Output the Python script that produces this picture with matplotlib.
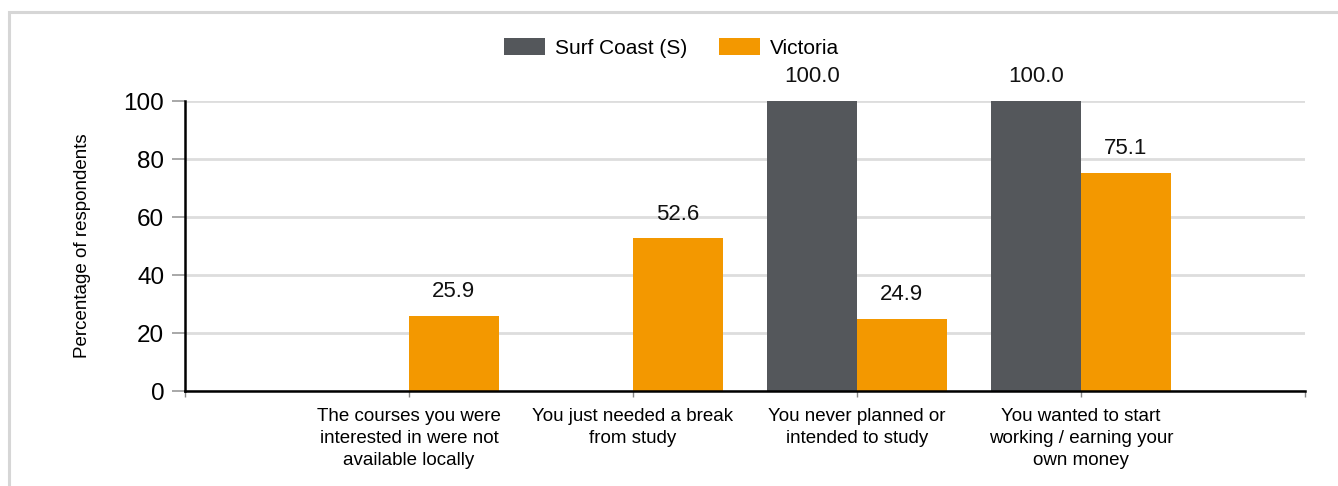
import matplotlib
matplotlib.use("Agg")
import matplotlib.pyplot as plt
from matplotlib.patches import Rectangle
import numpy as np

categories = [
    "The courses you were\ninterested in were not\navailable locally",
    "You just needed a break\nfrom study",
    "You never planned or\nintended to study",
    "You wanted to start\nworking / earning your\nown money",
]
surf_coast = [0.0, 0.0, 100.0, 100.0]
victoria = [25.9, 52.6, 24.9, 75.1]
series_names = ["Surf Coast (S)", "Victoria"]
yticks = [0, 20, 40, 60, 80, 100]

plt.rcParams['font.family'] = ['Liberation Sans', 'DejaVu Sans']

fig = plt.figure(figsize=(13.38, 4.86), dpi=100)
ax = fig.add_axes([185/1338, 95/486, 1120/1338, 290/486])

# border around figure
fig.patches.append(Rectangle((9/1338, -0.1), 1.2, 1 - 12/486 + 0.1, transform=fig.transFigure,
                             fill=False, edgecolor='#d6d6d6', linewidth=2.2, zorder=0))

x = np.arange(1, len(categories) + 1)
w = 0.4
gray = '#54575b'
orange = '#f39800'
b1 = ax.bar(x - w/2, surf_coast, w, color=gray, label=series_names[0], zorder=3)
b2 = ax.bar(x + w/2, victoria, w, color=orange, label=series_names[1], zorder=3)

for bars, vals in ((b1, surf_coast), (b2, victoria)):
    for r, v in zip(bars, vals):
        if v > 0:
            ax.annotate(f"{v:.1f}", (r.get_x() + r.get_width()/2, v), xytext=(0, 10),
                        textcoords='offset points', ha='center', va='bottom', fontsize=16,
                        color='#111111')

ax.set_xlim(0, 5)
ax.set_ylim(0, 100)
ax.set_yticks(yticks)
ax.set_yticklabels([str(t) for t in yticks], fontsize=17.5)
ax.set_xticks([0, 1, 2, 3, 4, 5])
ax.set_xticklabels([""] + categories + [""], fontsize=13.5, linespacing=1.38)
ax.tick_params(axis='x', length=4, width=1, color='#888888', pad=8)
ax.tick_params(axis='y', length=9.5, width=1.2, color='#999999', pad=5.5)
ax.grid(axis='y', color='#dddddd', linewidth=2, zorder=0)
ax.set_axisbelow(True)
for s in ['top', 'right']:
    ax.spines[s].set_visible(False)
ax.spines['left'].set_linewidth(1.8)
ax.spines['bottom'].set_linewidth(1.8)
ax.spines['left'].set_zorder(4)
ax.spines['bottom'].set_zorder(4)

ax.set_ylabel("Percentage of respondents", fontsize=13.5)
ax.yaxis.set_label_coords(-0.084, 0.5)

fig.legend(handles=[b1, b2], labels=series_names, loc='center', bbox_to_anchor=(0.502, 0.902),
           ncol=2, frameon=False, fontsize=15, handlelength=1.97, handleheight=0.9,
           handletextpad=0.48, columnspacing=1.5)

fig.savefig("out.png", dpi=100)
